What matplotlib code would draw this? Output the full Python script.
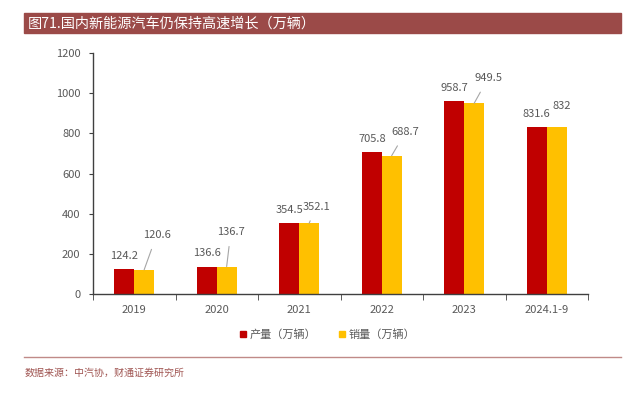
import matplotlib
matplotlib.use("Agg")
import numpy as np
import matplotlib.pyplot as plt
from matplotlib.patches import Rectangle
from matplotlib.lines import Line2D

plt.rcParams['font.family'] = ['Noto Sans CJK SC', 'DejaVu Sans']

years = ['2019', '2020', '2021', '2022', '2023', '2024.1-9']
production = [124.2, 136.6, 354.5, 705.8, 958.7, 831.6]
sales = [120.6, 136.7, 352.1, 688.7, 949.5, 832]
prod_labels = ['124.2', '136.6', '354.5', '705.8', '958.7', '831.6']
sales_labels = ['120.6', '136.7', '352.1', '688.7', '949.5', '832']
# label offsets for the sales values (points)
sales_dx = [9, 3, 5, 10, 10, 4]
sales_dy = [25, 25, 12, 17, 18, 15]
leader = [True, True, True, True, True, False]

red = '#C00000'
yellow = '#FFC000'
grey = '#595959'

fig = plt.figure(figsize=(6.29, 3.93), dpi=100)

# title banner
fig.patches.append(Rectangle((24/629, 1-33/393), 597/629, 20/393,
                             transform=fig.transFigure, color='#9B4A48', zorder=0))
fig.text(28/629, 1-23.5/393, '图71.国内新能源汽车仍保持高速增长（万辆）',
         color='white', fontsize=10.2, va='center', ha='left')

ax = fig.add_axes([93/629, 1-294/393, 495/629, 241/393])
x = np.arange(len(years))
w = 0.24
ax.bar(x - w/2, production, w, color=red, label='产量（万辆）')
ax.bar(x + w/2, sales, w, color=yellow, label='销量（万辆）')

for i in range(len(years)):
    ax.annotate(prod_labels[i], (x[i] - w/2, production[i]), xytext=(0, 9.5),
                textcoords='offset points', ha='center', va='center',
                fontsize=8, color=grey)
    ax.annotate(sales_labels[i], (x[i] + w/2, sales[i]),
                xytext=(sales_dx[i], sales_dy[i]), textcoords='offset points',
                ha='center', va='center', fontsize=8, color=grey,
                arrowprops=dict(arrowstyle='-', color='#A6A6A6', lw=0.8,
                                shrinkA=5, shrinkB=0) if leader[i] else None)

ax.set_xlim(-0.5, len(years) - 0.5)
ax.set_ylim(0, 1200)
ax.set_yticks(np.arange(0, 1201, 200))
ax.set_xticks(x)
ax.set_xticklabels(years)
ax.set_xticks(np.arange(-0.5, len(years), 1), minor=True)
ax.tick_params(axis='x', which='major', length=0, pad=8, labelsize=8, labelcolor=grey)
ax.tick_params(axis='x', which='minor', length=4, direction='out', color='#404040')
ax.tick_params(axis='y', length=3, direction='out', color='#404040',
               labelsize=8, labelcolor=grey, pad=6)
for s in ['top', 'right']:
    ax.spines[s].set_visible(False)
for s in ['left', 'bottom']:
    ax.spines[s].set_color('#404040')
    ax.spines[s].set_linewidth(1)

handles = [Line2D([], [], marker='s', ls='', color=red, markersize=5),
           Line2D([], [], marker='s', ls='', color=yellow, markersize=5)]
fig.legend(handles, ['产量（万辆）', '销量（万辆）'], loc='center',
           bbox_to_anchor=(326/629, 1-334/393), ncol=2, frameon=False,
           fontsize=8, labelcolor=grey, handletextpad=0.1, columnspacing=1.8,
           handlelength=1)

# bottom rule and source
fig.add_artist(Line2D([24/629, 621/629], [1-357/393, 1-357/393],
                      transform=fig.transFigure, color='#C08A88', lw=1))
fig.text(25/629, 1-373/393, '数据来源：中汽协，财通证券研究所', color='#A05552',
         fontsize=7.2, va='center', ha='left')

fig.savefig('out.png', dpi=100)
